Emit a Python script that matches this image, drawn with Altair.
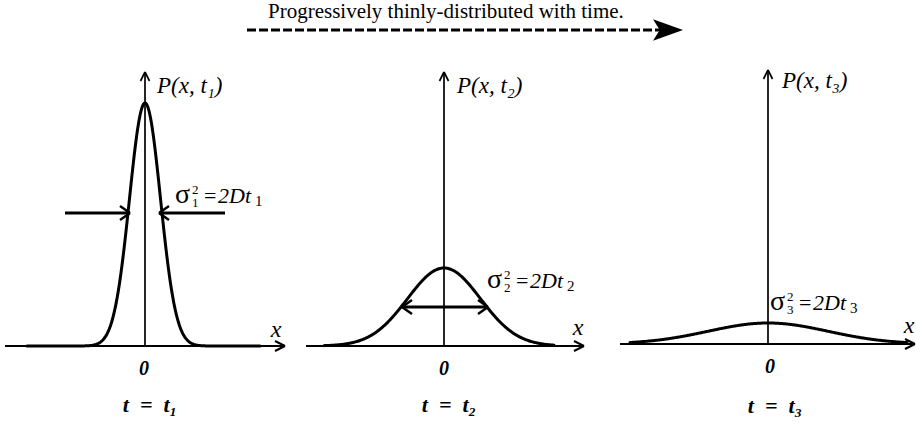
import altair as alt
import numpy as np
import pandas as pd

# Diagram units: 1 unit horizontally = 1 unit vertically; y is height above the x axes.
X_DOMAIN = [0, 916]
Y_DOMAIN = [-82, 346]
SERIF = "Liberation Serif"

# Three snapshots of a spreading Gaussian P(x, t) = A exp(-x^2 / 2 sigma^2)
panels = [1, 2, 3]
subs = ["₁", "₂", "₃"]
centers = [145, 444, 768]        # position of each P axis
bases = [0, 0, 2]                # level of each x axis
peaks = [243, 78, 21]            # peak height A of each curve
sigmas = [15.5, 36.5, 60.0]      # spread of each curve
curve_from = [-118, -120, -138]  # drawn extent of each curve around its centre
curve_to = [115, 110, 139]
axis_from = [5, 306, 620]        # x axis extent
axis_to = [285, 584, 915]
axis_top = [274, 274, 276]       # tip of each P axis

# Width markers: panel 1 has two inward arrows, panel 2 a double arrow
width_y = [133, 39]
p1_left_arrow = (65, 130)
p1_right_arrow = (225, 159)
p2_double_arrow = (402, 488)

# Label anchors
p_label_x = [157, 457, 782]
p_label_y = [253, 253, 258]
sig_label_x = [175, 487, 770]
sig_label_y = [143, 58, 36]
xlab_x = [276, 578, 909]
xlab_y = [9, 11, 13]
zero_x = [144, 444, 770]
zero_y = [-29, -29, -27]
tlab_x = [150, 449, 775]
tlab_y = [-66, -66, -67]

title_text = "Progressively thinly-distributed with time."
title_x, title_y = 268, 328
time_arrow = (247, 660, 316)     # dashed line start, end, level
time_head_x = 668

# ---------- curves ----------
rows = []
for p, c, b, a, s, lo, hi in zip(panels, centers, bases, peaks, sigmas, curve_from, curve_to):
    for u in np.linspace(lo, hi, 301):
        rows.append(dict(panel=p, x=c + u, y=b + a * np.exp(-u * u / (2 * s * s))))
curves = pd.DataFrame(rows)

# ---------- straight segments (axes, arrows) ----------
segs = []


def seg(x1, y1, x2, y2, w):
    segs.append(dict(x=x1, y=y1, x2=x2, y2=y2, w=w))


def head(tx, ty, dx, dy, w, length=9.0, spread=5.0):
    px, py = -dy, dx
    for sgn in (1, -1):
        seg(tx, ty, tx - dx * length + px * spread * sgn, ty - dy * length + py * spread * sgn, w)


for c, b, x0, x1, top in zip(centers, bases, axis_from, axis_to, axis_top):
    seg(x0, b, x1, b, 2)
    head(x1, b, 1, 0, 2, 10, 5)
    seg(c, b, c, top, 1.7)
    head(c, top, 0, 1, 1.7, 9, 4.5)

# panel 1 inward arrows
seg(p1_left_arrow[0], width_y[0], p1_left_arrow[1], width_y[0], 3)
head(p1_left_arrow[1], width_y[0], 1, 0, 2.5, 10, 7)
seg(p1_right_arrow[0], width_y[0], p1_right_arrow[1], width_y[0], 3)
head(p1_right_arrow[1], width_y[0], -1, 0, 2.5, 10, 7)
# panel 2 double arrow
seg(p2_double_arrow[0], width_y[1], p2_double_arrow[1], width_y[1], 3)
head(p2_double_arrow[0], width_y[1], -1, 0, 2.5, 10, 7)
head(p2_double_arrow[1], width_y[1], 1, 0, 2.5, 10, 7)
segments = pd.DataFrame(segs)

dashed = pd.DataFrame([dict(x=time_arrow[0], y=time_arrow[2], x2=time_arrow[1], y2=time_arrow[2])])
arrowhead = pd.DataFrame([dict(x=time_head_x, y=time_arrow[2])])

# ---------- text ----------
# each entry: x, y, text, font size, alignment, style
labels = []


def lab(x, y, t, s, a, st):
    labels.append(dict(x=x, y=y, t=t, s=s, a=a, st=st))


for i, k in enumerate(subs):
    lab(p_label_x[i], p_label_y[i], "P(x, t" + k + ")", 23, "left", "italic")
    lab(xlab_x[i], xlab_y[i], "x", 24, "center", "italic")
    lab(zero_x[i], zero_y[i], "0", 20, "center", "bolditalic")
    lab(tlab_x[i], tlab_y[i], "t\u2002=\u2002t" + k, 22, "center", "bolditalic")
    L, B = sig_label_x[i], sig_label_y[i]
    lab(L, B, "σ", 28, "left", "plain")
    lab(L + 17, B + 9, "2", 13, "left", "plain")
    lab(L + 17, B - 4, str(i + 1), 13, "left", "plain")
    lab(L + 29, B, "=", 22, "left", "plain")
    lab(L + 43, B, "2Dt", 22, "left", "italic")
    lab(L + 80, B - 3, str(i + 1), 15, "left", "plain")
lab(title_x, title_y, title_text, 21, "left", "plain")
labels = pd.DataFrame(labels)

xs = alt.Scale(domain=X_DOMAIN, nice=False, zero=False)
ys = alt.Scale(domain=Y_DOMAIN, nice=False, zero=False)
X = lambda f="x": alt.X(f"{f}:Q", scale=xs, axis=None)
Y = lambda f="y": alt.Y(f"{f}:Q", scale=ys, axis=None)

curve_layer = alt.Chart(curves).mark_line(color="black", strokeWidth=3, strokeCap="round").encode(
    x=X(), y=Y(), detail="panel:N", order="x:Q"
)
seg_layer = alt.Chart(segments).mark_rule(color="black", strokeCap="butt").encode(
    x=X(), y=Y(), x2="x2:Q", y2="y2:Q", strokeWidth=alt.StrokeWidth("w:Q", scale=None)
)
dash_layer = alt.Chart(dashed).mark_rule(color="black", strokeWidth=3, strokeDash=[9, 3]).encode(
    x=X(), y=Y(), x2="x2:Q", y2="y2:Q"
)
head_layer = alt.Chart(arrowhead).mark_point(
    shape="M-1,-0.72 L1,0 L-1,0.72 L-0.55,0 Z", size=900, filled=True, color="black", opacity=1
).encode(x=X(), y=Y())

styles = {
    "plain": dict(fontStyle="normal", fontWeight="normal"),
    "bold": dict(fontStyle="normal", fontWeight="bold"),
    "italic": dict(fontStyle="italic", fontWeight="normal"),
    "bolditalic": dict(fontStyle="italic", fontWeight="bold"),
}
text_layers = []
for (st, al, sz), sub in labels.groupby(["st", "a", "s"]):
    text_layers.append(
        alt.Chart(sub).mark_text(
            font=SERIF, fontSize=float(sz), color="black", align=al, baseline="alphabetic", **styles[st]
        ).encode(x=X(), y=Y(), text="t:N")
    )

chart = alt.layer(curve_layer, seg_layer, dash_layer, head_layer, *text_layers).properties(
    width=916, height=428, padding=0, autosize=alt.AutoSizeParams(type="none"), background="white"
).configure(font=SERIF).configure_view(stroke=None)

chart.save("out.html", embed_options={"renderer": "svg", "actions": False})
